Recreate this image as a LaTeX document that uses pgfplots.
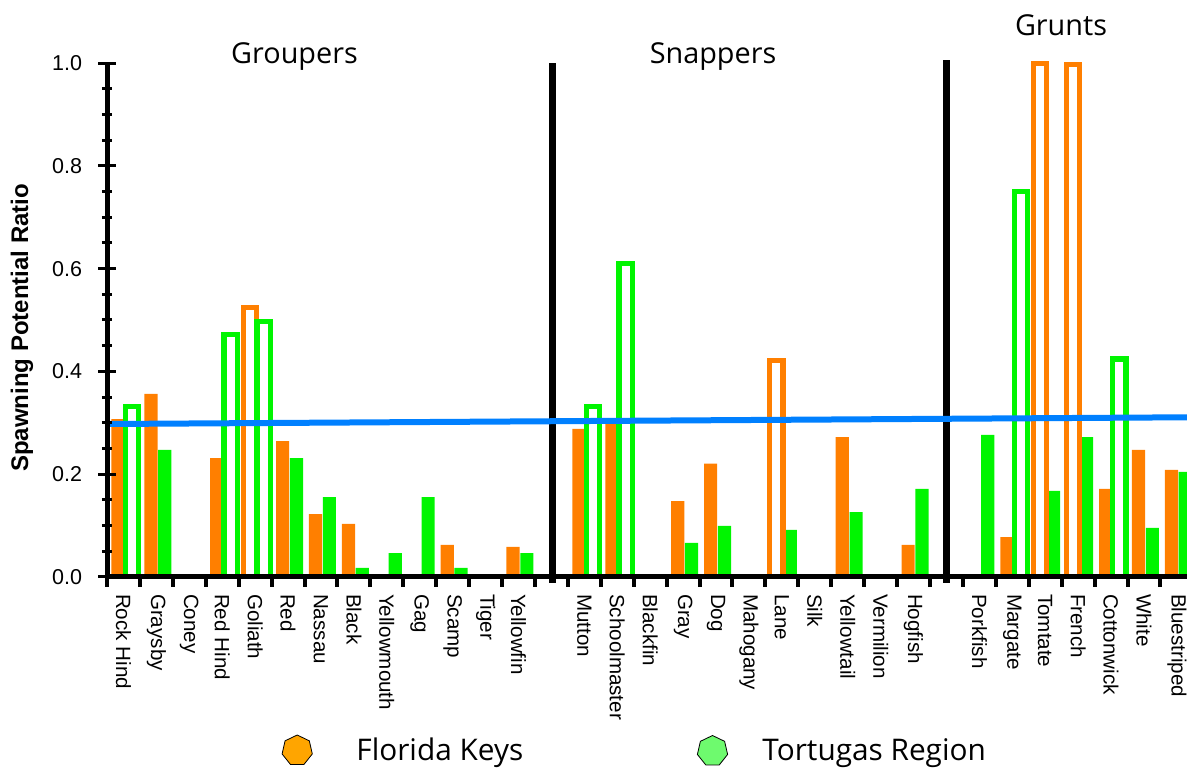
\documentclass[border=0pt]{standalone}
\usepackage{pgfplots}
\pgfplotsset{compat=1.18}
\usepackage{pgfplotstable}
\usepackage{fontspec}
\setmainfont{Liberation Sans}
\newfontfamily\comic{Open Sans}
\usetikzlibrary{shapes.geometric}
\definecolor{fkorange}{RGB}{255,127,0}
\definecolor{trgreen}{RGB}{0,245,0}
\definecolor{sprblue}{RGB}{0,128,255}
\definecolor{legorange}{RGB}{255,165,0}
\definecolor{leggreen}{RGB}{110,250,110}

% Florida Keys, filled bars (x = slot + 0.335)
\pgfplotstableread{
x y
0.335 0.307
1.335 0.356
3.335 0.231
5.335 0.264
6.335 0.122
7.335 0.103
10.335 0.062
12.335 0.058
14.335 0.288
15.335 0.300
17.335 0.147
18.335 0.220
22.335 0.272
24.335 0.062
27.335 0.077
30.335 0.171
31.335 0.247
32.335 0.208
}\orangefilled
% Florida Keys, outlined bars
\pgfplotstableread{
x y
4.335 0.524
20.335 0.421
28.335 1.000
29.335 0.998
}\orangeopen
% Tortugas Region, filled bars (x = slot + 0.755)
\pgfplotstableread{
x y
1.755 0.247
5.755 0.231
6.755 0.155
7.755 0.017
8.755 0.046
9.755 0.155
10.755 0.017
12.755 0.046
17.755 0.066
18.755 0.099
20.755 0.091
22.755 0.126
24.755 0.171
26.755 0.276
28.755 0.167
29.755 0.272
31.755 0.095
32.755 0.204
}\greenfilled
% Tortugas Region, outlined bars
\pgfplotstableread{
x y
0.755 0.331
3.755 0.472
4.755 0.497
14.755 0.331
15.755 0.610
27.755 0.750
30.755 0.424
}\greenopen

\begin{document}
\begin{tikzpicture}
\begin{axis}[
  at={(53.5pt,96.65pt)}, anchor=south west,
  scale only axis, width=540pt, height=256.7pt,
  xmin=0, xmax=32.807, ymin=0, ymax=1,
  axis x line=bottom, axis y line=left,
  axis line style={-, line width=2.5pt, black},
  axis on top, clip=false,
  /pgf/number format/assume math mode=true,
  ytick={0,0.2,0.4,0.6,0.8,1.0},
  minor y tick num=3,
  ytick align=center,
  major tick length=8.5pt, minor tick length=5pt,
  major y tick style={line width=1.5pt, black},
  minor y tick style={line width=1.5pt, black},
  yticklabel style={font=\fontsize{10.75}{12}\selectfont, inner sep=0pt, anchor=east, xshift=-8pt,
    /pgf/number format/.cd, fixed, fixed zerofill, precision=1},
  xtick={0.5,1.5,2.5,3.5,4.5,5.5,6.5,7.5,8.5,9.5,10.5,11.5,12.5,
         14.5,15.5,16.5,17.5,18.5,19.5,20.5,21.5,22.5,23.5,24.5,
         26.5,27.5,28.5,29.5,30.5,31.5,32.5},
  xticklabels={Rock Hind,Graysby,Coney,Red Hind,Goliath,Red,Nassau,Black,Yellowmouth,Gag,Scamp,Tiger,Yellowfin,
    Mutton,Schoolmaster,Blackfin,Gray,Dog,Mahogany,Lane,Silk,Yellowtail,Vermilion,Hogfish,
    Porkfish,Margate,Tomtate,French,Cottonwick,White,Bluestriped},
  major x tick style={draw=none},
  minor xtick={0,1,...,32},
  xtick align=outside,
  minor x tick style={line width=2pt, black},
  xticklabel style={rotate=-90, anchor=west, inner sep=0pt, font=\fontsize{10.3}{12}\selectfont},
]
\addplot[ybar, bar width=0.4, bar shift=0pt, fill=fkorange, draw=none] table {\orangefilled};
\addplot[ybar, bar width=0.4, bar shift=0pt, fill=trgreen, draw=none] table {\greenfilled};
\addplot[ybar, bar width=0.4, bar shift=0pt, fill=none, draw=fkorange, line width=2.6pt] table {\orangeopen};
\addplot[ybar, bar width=0.4, bar shift=0pt, fill=none, draw=trgreen, line width=2.6pt] table {\greenopen};
\addplot[black, line width=3.4pt] coordinates {(13.54,-0.012) (13.54,1.0)};
\addplot[black, line width=3.4pt] coordinates {(25.49,-0.012) (25.49,1.006)};
\addplot[sprblue, line width=3pt] coordinates {(0,0.2974) (32.807,0.3105)};
\end{axis}
\node[rotate=90, font=\bfseries\fontsize{12}{14}\selectfont] at (11pt,221pt) {Spawning Potential Ratio};
\node[anchor=base, inner sep=0pt, font=\comic\fontsize{14.4}{16}\selectfont] at (147.25pt,353.35pt) {Groupers};
\node[anchor=base, inner sep=0pt, font=\comic\fontsize{14.4}{16}\selectfont] at (356.5pt,353.35pt) {Snappers};
\node[anchor=base, inner sep=0pt, font=\comic\fontsize{14.4}{16}\selectfont] at (530.5pt,367pt) {Grunts};
\node[regular polygon, regular polygon sides=7, minimum size=15.5pt, inner sep=0pt, draw=black, line width=0.4pt, fill=legorange] at (148.6pt,9.75pt) {};
\node[regular polygon, regular polygon sides=7, minimum size=15.5pt, inner sep=0pt, draw=black, line width=0.4pt, fill=leggreen] at (356.25pt,9.5pt) {};
\node[anchor=base west, inner sep=0pt, font=\comic\fontsize{14.9}{16}\selectfont] at (178pt,5pt) {Florida Keys};
\node[anchor=base west, inner sep=0pt, font=\comic\fontsize{14.9}{16}\selectfont] at (381pt,5pt) {Tortugas Region};
\pgfresetboundingbox
\useasboundingbox (0,0) rectangle (593.5pt,385pt);
\end{tikzpicture}
\end{document}
